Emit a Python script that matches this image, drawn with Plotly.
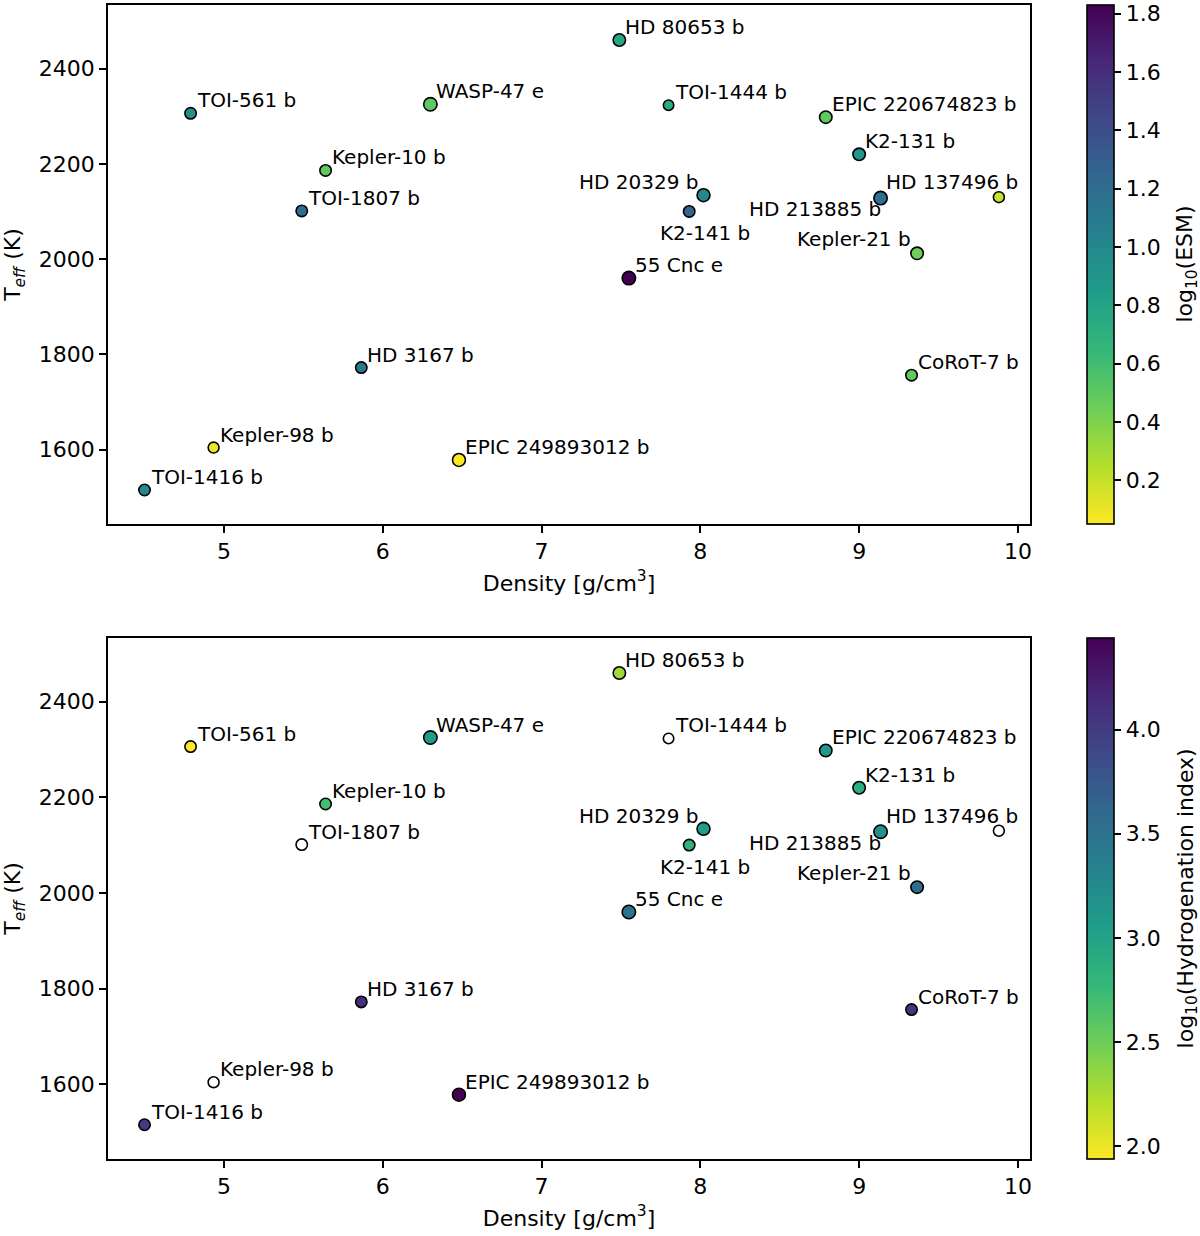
import plotly.graph_objects as go

planets = ["TOI-1416 b", "Kepler-98 b", "TOI-561 b", "TOI-1807 b", "Kepler-10 b",
           "HD 3167 b", "WASP-47 e", "EPIC 249893012 b", "HD 80653 b", "55 Cnc e",
           "TOI-1444 b", "K2-141 b", "HD 20329 b", "EPIC 220674823 b", "K2-131 b",
           "HD 213885 b", "HD 137496 b", "Kepler-21 b", "CoRoT-7 b"]
density = [4.50, 4.935, 4.79, 5.49, 5.64, 5.865, 6.30, 6.48, 7.49, 7.55,
           7.80, 7.93, 8.02, 8.79, 9.00, 9.135, 9.88, 9.365, 9.33]
teff = [1515, 1604, 2306, 2101, 2186, 1772, 2325, 1578, 2460, 1960,
        2323, 2100, 2134, 2298, 2220, 2128, 2130, 2012, 1756]
log_esm = [1.00, 0.10, 0.94, 1.21, 0.50, 1.12, 0.50, 0.05, 0.76, 1.83,
           0.73, 1.26, 1.00, 0.50, 0.89, 1.19, 0.19, 0.44, 0.50]
log_hyd = [4.01, None, 1.94, None, 2.69, 4.11, 3.07, 4.44, 2.30, 3.49,
           None, 2.84, 3.04, 3.07, 2.87, 3.19, None, 3.56, 4.05]
marker_d = [13, 12.5, 13, 13, 13, 13, 15, 14.5, 14, 15,
            12, 13, 14.5, 14, 14, 15, 12.5, 14, 13]

# label placement (layout only): xanchor, xshift, yanchor, yshift
label_pos = {
    "HD 20329 b": ("right", -4, "bottom", -1),
    "Kepler-21 b": ("right", -4, "bottom", 0),
    "HD 213885 b": ("right", 2, "top", 3),
    "K2-141 b": ("left", -31, "top", -8),
    "HD 137496 b": ("right", 21, "bottom", 1),
}
default_pos = ("left", 4, "bottom", -1)

FONT = "DejaVu Sans"
LABEL_SIZE = 20
AXIS_SIZE = 22
fig = go.Figure()
sizes = [d - 1.6 for d in marker_d]

top_dom = [0.5502, 1.0]
bot_dom = [0.0, 0.4516]

def cbar(y_top, length, dtick):
    return dict(x=1.0618, xanchor="left", y=y_top, yanchor="top",
                len=length, lenmode="fraction",
                thickness=27, outlinecolor="black", outlinewidth=1.6,
                ticks="outside", ticklen=7, tickwidth=1.6, tickcolor="black",
                dtick=dtick, tick0=0, tickformat=".1f",
                tickfont=dict(family=FONT, size=AXIS_SIZE, color="black"),
                ypad=0, xpad=0)

fig.add_trace(go.Scatter(
    x=density, y=teff, mode="markers", xaxis="x", yaxis="y",
    marker=dict(size=sizes, color=log_esm, colorscale="Viridis", reversescale=True,
                opacity=1, line=dict(color="black", width=1.6),
                colorbar=cbar(1.0, top_dom[1] - top_dom[0], 0.2)),
    showlegend=False, hoverinfo="skip"))

vx = [d for d, h in zip(density, log_hyd) if h is not None]
vy = [t for t, h in zip(teff, log_hyd) if h is not None]
vc = [h for h in log_hyd if h is not None]
vs = [s for s, h in zip(sizes, log_hyd) if h is not None]
nx = [d for d, h in zip(density, log_hyd) if h is None]
ny = [t for t, h in zip(teff, log_hyd) if h is None]
ns = [s for s, h in zip(sizes, log_hyd) if h is None]

fig.add_trace(go.Scatter(
    x=vx, y=vy, mode="markers", xaxis="x2", yaxis="y2",
    marker=dict(size=vs, color=vc, colorscale="Viridis", reversescale=True,
                opacity=1, line=dict(color="black", width=1.6),
                colorbar=cbar(bot_dom[1], bot_dom[1] - bot_dom[0], 0.5)),
    showlegend=False, hoverinfo="skip"))

fig.add_trace(go.Scatter(
    x=nx, y=ny, mode="markers", xaxis="x2", yaxis="y2",
    marker=dict(size=ns, color="white", opacity=1, line=dict(color="black", width=1.6)),
    showlegend=False, hoverinfo="skip"))

annotations = []
for xr, yr in (("x", "y"), ("x2", "y2")):
    for name, dx, ty in zip(planets, density, teff):
        xa, xs, ya, ys = label_pos.get(name, default_pos)
        annotations.append(dict(x=dx, y=ty, xref=xr, yref=yr, text=name, showarrow=False,
                                xanchor=xa, yanchor=ya, xshift=xs, yshift=ys,
                                font=dict(family=FONT, size=LABEL_SIZE, color="black")))

# colorbar titles
annotations.append(dict(x=1.1703, y=(top_dom[0] + top_dom[1]) / 2, xref="paper", yref="paper",
                        text="log<sub>10</sub>(ESM)", textangle=-90, showarrow=False,
                        xanchor="center", yanchor="middle",
                        font=dict(family=FONT, size=AXIS_SIZE, color="black")))
annotations.append(dict(x=1.1703, y=(bot_dom[0] + bot_dom[1]) / 2, xref="paper", yref="paper",
                        text="log<sub>10</sub>(Hydrogenation index)", textangle=-90, showarrow=False,
                        xanchor="center", yanchor="middle",
                        font=dict(family=FONT, size=AXIS_SIZE, color="black")))

axis_common = dict(showline=True, mirror=True, linecolor="black", linewidth=1.6,
                   ticks="outside", ticklen=7, tickwidth=1.6, tickcolor="black",
                   showgrid=False, zeroline=False,
                   tickfont=dict(family=FONT, size=AXIS_SIZE, color="black"))
xrange = [4.270, 10.076]
yrange = [1443.4, 2533.5]

fig.update_layout(
    width=1200, height=1236,
    margin=dict(l=108, r=170, t=3, b=77),
    paper_bgcolor="white", plot_bgcolor="white",
    font=dict(family=FONT, size=AXIS_SIZE, color="black"),
    annotations=annotations,
    xaxis=dict(domain=[0, 1], anchor="y", range=xrange, dtick=1,
               title=dict(text="Density [g/cm<sup>3</sup>]", standoff=12,
                          font=dict(family=FONT, size=AXIS_SIZE)), **axis_common),
    yaxis=dict(domain=top_dom, anchor="x", range=yrange, dtick=200, tick0=0,
               title=dict(text="T<sub><i>eff</i></sub> (K)", standoff=14,
                          font=dict(family=FONT, size=AXIS_SIZE)), **axis_common),
    xaxis2=dict(domain=[0, 1], anchor="y2", range=xrange, dtick=1,
                title=dict(text="Density [g/cm<sup>3</sup>]", standoff=12,
                           font=dict(family=FONT, size=AXIS_SIZE)), **axis_common),
    yaxis2=dict(domain=bot_dom, anchor="x2", range=yrange, dtick=200, tick0=0,
                title=dict(text="T<sub><i>eff</i></sub> (K)", standoff=14,
                           font=dict(family=FONT, size=AXIS_SIZE)), **axis_common),
)

fig.write_html("out.html", config={"displayModeBar": False},
               post_script="document.body.style.margin='0px';")
